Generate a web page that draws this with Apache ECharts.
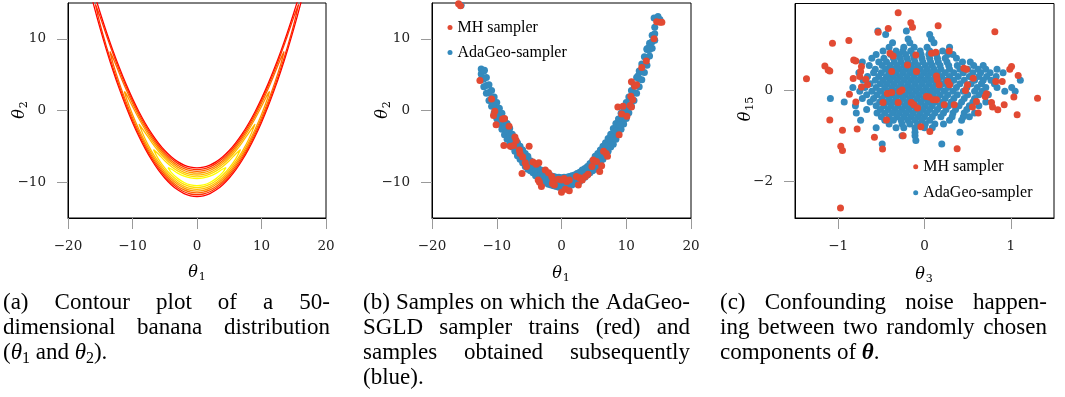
<!DOCTYPE html>
<html><head><meta charset="utf-8">
<script src="https://cdn.jsdelivr.net/npm/echarts@6/dist/echarts.min.js"></script>
<style>html,body{margin:0;padding:0;background:#fff}#c{width:1065px;height:397px}</style>
</head><body><div id="c"></div>
<script>
// ---------------- DATA ----------------
// (a) contour plot: ridge of the banana (theta2 at theta1 = 0,1,2,...) and contour half-widths
const ridgeY = [-10, -9.9, -9.6, -9.1, -8.4, -7.5, -6.4, -5.1, -3.6, -1.9, 0, 2.1, 4.4, 6.9, 9.6, 12.5, 15.6, 18.9];
const contourHW = [
  [2.00, 2.00, 1.99, 1.97, 1.95, 1.92, 1.89, 1.84, 1.79, 1.73, 1.66, 1.58, 1.49, 1.38, 1.26, 1.11, 0.92, 0.66],
  [1.75, 1.75, 1.74, 1.72, 1.69, 1.66, 1.62, 1.57, 1.51, 1.44, 1.35, 1.25, 1.13, 0.99, 0.80, 0.53],
  [1.50, 1.50, 1.48, 1.46, 1.43, 1.39, 1.34, 1.28, 1.21, 1.12, 1.01, 0.87, 0.69, 0.40],
  [1.25, 1.25, 1.23, 1.20, 1.17, 1.12, 1.06, 0.98, 0.88, 0.75, 0.57, 0.26],
  [1.00, 0.99, 0.98, 0.94, 0.90, 0.83, 0.75, 0.63, 0.46],
  [0.75, 0.74, 0.72, 0.67, 0.60, 0.50, 0.34],
  [0.50, 0.49, 0.45, 0.37, 0.23]
];
const contourEndX = [18, 15.75, 13.5, 11.25, 9, 6.75, 4.5];
const contourEndY = [22.4, 14.81, 8.23, 2.66, -1.9, -5.44, -7.98];
const contourColors = ['#ff0000', '#ff3300', '#ff6600', '#ff9900', '#ffbb00', '#ffdd00', '#ffff00'];

// (b) samples
const bBlueX =   [-12.4,-12.0,-11.6,-11.2,-10.8,-10.4,-10.0,-9.6,-9.2,-8.8,-8.4,-8.0,-7.6,-7.2,-6.8,-6.4,-6.0,-5.6,-5.2,-4.8,-4.4,-4.0,-3.6,-3.2,-2.8,-2.4,-2.0,-1.6,-1.2,-0.8,-0.4,0.0,0.4,0.8,1.2,1.6,2.0,2.4,2.8,3.2,3.6,4.0,4.4,4.8,5.2,5.6,6.0,6.4,6.8,7.2,7.6,8.0,8.4,8.8,9.2,9.6,10.0,10.4,10.8,11.2,11.6,12.0,12.4,12.8,13.2,13.6,14.0,14.4];
const bBlueUp =  [5.8,5.5,4.6,3.6,2.8,1.9,1.1,0.3,-0.4,-1.2,-1.8,-2.5,-3.3,-3.9,-4.5,-5.0,-5.5,-6.0,-6.4,-7.0,-7.4,-7.8,-8.1,-8.3,-8.6,-8.8,-9.0,-9.1,-9.2,-9.3,-9.3,-9.4,-9.3,-9.3,-9.2,-9.1,-9.0,-8.8,-8.6,-8.3,-8.1,-7.8,-7.4,-7.0,-6.4,-6.0,-5.5,-5.0,-4.5,-3.9,-3.3,-2.5,-1.8,-1.2,-0.4,0.3,1.1,1.9,2.8,3.6,4.6,5.5,6.5,7.5,8.5,9.4,10.5,11.6];
const bBlueMid = [5.1,4.4,3.5,2.5,1.7,0.8,0.0,-0.8,-1.5,-2.3,-2.9,-3.6,-4.2,-4.8,-5.4,-5.9,-6.4,-6.9,-7.3,-7.7,-8.1,-8.4,-8.7,-9.0,-9.2,-9.4,-9.6,-9.7,-9.9,-9.9,-10.0,-10.0,-10.0,-9.9,-9.9,-9.7,-9.6,-9.4,-9.2,-9.0,-8.7,-8.4,-8.1,-7.7,-7.3,-6.9,-6.4,-5.9,-5.4,-4.8,-4.2,-3.6,-2.9,-2.3,-1.5,-0.8,0.0,0.8,1.7,2.5,3.5,4.4,5.4,6.4,7.4,8.5,9.6,10.7];
const bBlueLow = [4.3,3.3,2.4,1.4,0.6,-0.3,-1.1,-1.9,-2.6,-3.4,-4.0,-4.7,-5.1,-5.7,-6.3,-6.8,-7.3,-7.8,-8.2,-8.4,-8.7,-9.1,-9.4,-9.6,-9.9,-10.1,-10.3,-10.4,-10.5,-10.6,-10.7,-10.7,-10.6,-10.6,-10.5,-10.4,-10.2,-10.1,-9.9,-9.6,-9.3,-9.0,-8.7,-8.4,-8.2,-7.8,-7.3,-6.8,-6.3,-5.7,-5.1,-4.7,-4.0,-3.4,-2.6,-1.9,-1.1,-0.3,0.6,1.4,2.4,3.3,4.3,5.3,6.3,7.6,8.7,9.8];
const bBlueExtra = [[-15.5,14.7],[14.3,12.9],[14.9,13.1],[15.2,12.7],[13.5,8.8],[13.2,8.6],[-11.9,5.6],[-9.8,-1.6],[-7.8,-4.6],[9.0,-2.0],[11.8,4.8]];
const bRed = [[-15.9,14.9],[-15.6,14.6],[-12.6,4.2],[-10.8,1.6],[-10.3,-0.1],[-10.5,-0.7],[-10.1,-2.0],[-9.1,-1.2],[-8.8,-1.1],[-8.1,-2.2],[-8.9,-4.9],[-7.9,-5.0],[-7.4,-4.9],[-7.2,-3.7],[-7.0,-4.2],[-6.5,-5.5],[-6.4,-6.0],[-6.0,-6.5],[-5.6,-7.3],[-5.4,-7.8],[-6.1,-8.8],[-5.0,-5.0],[-4.4,-7.2],[-3.9,-7.5],[-3.5,-7.3],[-3.6,-9.7],[-3.4,-10.0],[-3.1,-10.6],[-2.5,-8.3],[-2.0,-8.7],[-1.5,-9.2],[-1.3,-9.7],[-1.1,-10.4],[-1.4,-10.2],[-0.5,-9.6],[0.0,-9.7],[0.4,-9.5],[0.8,-9.9],[1.2,-9.7],[0.0,-11.4],[0.6,-11.0],[1.2,-11.2],[2.3,-9.2],[2.8,-9.4],[3.2,-9.7],[3.7,-9.2],[4.1,-8.9],[2.6,-10.4],[4.7,-7.8],[4.9,-6.9],[5.4,-7.1],[5.9,-8.5],[6.2,-7.7],[6.5,-5.7],[6.9,-6.0],[7.1,-6.4],[8.9,-3.4],[8.7,0.5],[9.5,0.6],[9.3,-0.5],[10.1,-0.8],[10.6,0.7],[10.8,0.5],[10.7,2.0],[11.0,1.5],[10.8,4.0],[11.3,3.4],[11.6,3.6],[12.4,6.0],[13.1,6.9],[14.3,10.0],[14.7,12.4],[15.2,12.3],[15.5,12.3]];

// (c) samples: blue cloud by rows (theta15 value -> theta3 values)
const cBlueY = [1.30,1.22,1.12,1.04,0.94,0.86,0.78,0.70,0.62,0.54,0.46,0.38,0.30,0.22,0.14,0.06,-0.02,-0.10,-0.18,-0.26,-0.34,-0.42,-0.50,-0.58,-0.66,-0.74,-0.82,-0.92,-1.00,-1.10,-1.18];
const cBlueX = [
  [-0.54,-0.21],
  [-0.45,0.06],
  [-0.19,0.08],
  [-0.37,-0.17,0.11],
  [-0.41,-0.24,-0.12,0.03,0.29],
  [-0.48,-0.33,-0.25,-0.16,-0.05,0.06,0.21],
  [-0.56,-0.39,-0.30,-0.22,-0.13,-0.04,0.05,0.14,0.27,0.33],
  [-0.61,-0.47,-0.36,-0.28,-0.20,-0.12,-0.03,0.06,0.15,0.24,0.37],
  [-0.72,-0.53,-0.44,-0.35,-0.27,-0.19,-0.11,-0.02,0.07,0.16,0.26,0.44,0.53],
  [-0.64,-0.49,-0.40,-0.32,-0.24,-0.16,-0.08,0.01,0.09,0.18,0.28,0.38,0.57,0.68],
  [-0.57,-0.45,-0.37,-0.29,-0.21,-0.13,-0.05,0.03,0.11,0.19,0.29,0.41,0.50,0.62,0.71,0.84],
  [-0.76,-0.59,-0.50,-0.41,-0.33,-0.25,-0.17,-0.09,-0.01,0.07,0.15,0.24,0.34,0.45,0.56,0.65,0.76,0.91],
  [-0.66,-0.53,-0.44,-0.36,-0.28,-0.20,-0.12,-0.04,0.04,0.12,0.20,0.29,0.39,0.52,0.63,0.72,0.83],
  [-0.71,-0.57,-0.48,-0.40,-0.32,-0.24,-0.16,-0.08,0.00,0.08,0.16,0.25,0.34,0.46,0.58,0.68,0.77,1.11],
  [-0.63,-0.51,-0.43,-0.35,-0.27,-0.19,-0.11,-0.03,0.05,0.13,0.21,0.30,0.41,0.54,0.66,0.81],
  [-0.83,-0.69,-0.56,-0.46,-0.38,-0.30,-0.22,-0.14,-0.06,0.02,0.10,0.18,0.27,0.37,0.49,0.61,0.71,0.84,1.01],
  [-0.75,-0.61,-0.51,-0.42,-0.34,-0.26,-0.18,-0.10,-0.02,0.06,0.14,0.23,0.33,0.45,0.58,0.67,0.93,1.05],
  [-0.67,-0.55,-0.46,-0.38,-0.30,-0.22,-0.14,-0.06,0.02,0.10,0.18,0.27,0.38,0.50,0.63,0.74],
  [-1.09,-0.72,-0.59,-0.49,-0.41,-0.33,-0.25,-0.17,-0.09,-0.01,0.07,0.15,0.24,0.34,0.46,0.58],
  [-0.93,-0.63,-0.52,-0.44,-0.36,-0.28,-0.20,-0.12,-0.04,0.04,0.12,0.21,0.31,0.43,0.56,0.71],
  [-0.80,-0.56,-0.47,-0.39,-0.31,-0.23,-0.15,-0.07,0.01,0.09,0.18,0.28,0.40,0.52,0.63],
  [-0.67,-0.51,-0.42,-0.34,-0.26,-0.18,-0.10,-0.02,0.06,0.15,0.25,0.36,0.49],
  [-0.79,-0.55,-0.46,-0.37,-0.29,-0.21,-0.13,-0.05,0.03,0.12,0.22,0.33,0.46,0.58],
  [-0.50,-0.41,-0.32,-0.24,-0.16,-0.08,0.00,0.09,0.19,0.32,0.45,0.52],
  [-0.74,-0.46,-0.36,-0.27,-0.19,-0.11,-0.03,0.06,0.29,0.43],
  [-0.41,-0.26,-0.17,-0.08,0.01,0.12,0.22],
  [-0.56,-0.33,-0.24,-0.11,0.00,0.09],
  [-0.11,0.41],
  [-0.26,-0.11],
  [-0.10],
  [-0.49,0.20]
];
const cRed = [[-1.367,0.25],[-1.154,0.53],[-1.116,0.445],[-1.097,0.42],[-1.066,1.03],[-0.876,1.09],[-1.097,-0.65],[-0.95,-0.88],[-0.97,-1.23],[-0.95,-1.32],[-0.973,-2.58],[-0.82,0.66],[-0.795,0.64],[-0.73,0.52],[-0.74,0.41],[-0.75,0.30],[-0.826,0.255],[-0.68,0.24],[-0.66,0.12],[-0.87,-0.09],[-0.795,-0.26],[-0.78,-0.85],[-0.73,0.07],[-0.58,-1.03],[-0.486,-1.29],[-0.537,1.27],[-0.42,1.35],[-0.305,1.70],[-0.40,0.81],[-0.363,0.75],[-0.38,0.41],[-0.44,-0.65],[-0.48,-0.27],[-0.43,-0.07],[-0.38,-0.05],[-0.286,-0.03],[-0.26,0.007],[-0.305,-0.27],[-0.247,-1.0],[-0.197,0.55],[-0.158,1.48],[-0.139,1.38],[-0.154,-0.27],[-0.124,-0.32],[-0.081,-0.39],[-0.093,0.41],[-0.100,0.77],[-0.042,-0.80],[0.023,-0.14],[0.054,-0.15],[0.10,-0.21],[0.062,-0.905],[0.081,0.81],[0.131,0.83],[0.158,1.41],[0.139,0.31],[0.147,0.23],[0.17,0.12],[0.139,-0.21],[0.228,-0.32],[0.286,0.86],[0.27,0.19],[0.29,0.12],[0.344,-0.32],[0.378,-1.28],[0.456,0.48],[0.486,0.46],[0.475,-0.007],[0.498,0.117],[0.564,0.26],[0.556,-0.37],[0.602,-0.25],[0.622,-0.50],[0.718,-0.08],[0.703,-0.14],[0.815,1.28],[0.826,0.19],[0.776,-0.27],[0.788,-0.37],[0.849,-0.43],[0.90,0.19],[0.923,-0.32],[0.988,0.46],[1.008,0.52],[1.035,-0.15],[1.085,0.32],[1.073,-0.54],[1.309,-0.175]];

// tick labels
const abXTicks = [-20, -10, 0, 10, 20];
const abYTicks = [-10, 0, 10];
const cXTicks = [-1, 0, 1];
const cYTicks = [-2, 0];
const seriesNames = ['MH sampler', 'AdaGeo-sampler'];

// captions ([i:..] italic, [s:..] subscript, [b:..] bold italic)
const captionA = ['(a) Contour plot of a 50-', 'dimensional banana distribution', '([i:θ][s:1] and [i:θ][s:2]).'];
const captionB = ['(b) Samples on which the AdaGeo-', 'SGLD sampler trains (red) and', 'samples obtained subsequently', '(blue).'];
const captionC = ['(c) Confounding noise happen-', 'ing between two randomly chosen', 'components of [b:θ].'];

// ---------------- BUILD ----------------
const RED = '#e24a33', BLUE = '#348abd';
const mctx = document.createElement('canvas').getContext('2d');
function fontStr(f) { return f.style + ' ' + f.weight + ' ' + f.size + 'px ' + f.family; }
function measure(t, f) { mctx.font = fontStr(f); return mctx.measureText(t).width; }
function textStyle(t, f) {
  return { text: t, fontSize: f.size, fontFamily: f.family, fontStyle: f.style, fontWeight: f.weight,
    fill: '#000', textAlign: 'left', textVerticalAlign: 'middle' };
}

function contourLoop(k) {
  const hw = contourHW[k], n = hw.length, e = contourEndX[k], ye = contourEndY[k];
  const pts = [[-e, ye]];
  for (let i = n - 1; i >= 1; i--) pts.push([-i, ridgeY[i] + hw[i]]);
  for (let i = 0; i < n; i++) pts.push([i, ridgeY[i] + hw[i]]);
  pts.push([e, ye]);
  for (let i = n - 1; i >= 0; i--) pts.push([i, ridgeY[i] - hw[i]]);
  for (let i = 1; i < n; i++) pts.push([-i, ridgeY[i] - hw[i]]);
  pts.push([-e, ye]);
  return pts;
}

const bBlue = [];
bBlueX.forEach((x, i) => { bBlue.push([x, bBlueUp[i]], [x, bBlueMid[i]], [x, bBlueLow[i]]); });
bBlueExtra.forEach(p => bBlue.push(p));
const cBlue = [];
cBlueY.forEach((y, i) => cBlueX[i].forEach(x => cBlue.push([x, y])));

const fmt = v => String(v).replace('-', '\u2212');
function xAx(gi, min, max, ticks) {
  return {
    gridIndex: gi, type: 'value', min: min, max: max,
    axisLine: { show: true, onZero: false, lineStyle: { color: '#000', width: 1 } },
    splitLine: { show: false },
    axisTick: { show: true, customValues: ticks, length: 11, inside: false, lineStyle: { color: '#9a9a9a', width: 1 } },
    axisLabel: { customValues: ticks, margin: 21, fontFamily: 'DejaVu Serif', fontSize: 13.5, color: '#222', formatter: fmt }
  };
}
function yAx(gi, min, max, ticks) {
  const a = xAx(gi, min, max, ticks);
  a.axisLabel.margin = 22;
  return a;
}

const grids = [
  { left: 68, top: 3, width: 258, height: 215 },
  { left: 432, top: 3, width: 259, height: 215 },
  { left: 795, top: 3.5, width: 259, height: 214.5 }
].map(g => Object.assign(g, { show: true, borderColor: '#000', borderWidth: 1, backgroundColor: 'transparent', containLabel: false }));

const series = [];
for (let k = 0; k < contourHW.length; k++) {
  series.push({ type: 'line', xAxisIndex: 0, yAxisIndex: 0, data: contourLoop(k), smooth: 0.4, showSymbol: false,
    symbol: 'none', clip: true, lineStyle: { color: contourColors[k], width: 1.3 }, silent: true, z: 2 });
}
const sc = (name, xi, data, color) => ({ name: name, type: 'scatter', xAxisIndex: xi, yAxisIndex: xi, data: data,
  symbol: 'circle', symbolSize: 7, itemStyle: { color: color, opacity: 1 }, clip: true, silent: true });
series.push(sc(seriesNames[1], 1, bBlue, BLUE));
series.push(sc(seriesNames[0], 1, bRed, RED));
series.push(sc(seriesNames[1], 2, cBlue, BLUE));
series.push(sc(seriesNames[0], 2, cRed, RED));

const legendCommon = { data: seriesNames, orient: 'vertical', icon: 'circle', itemWidth: 5, itemHeight: 5, padding: 0,
  selectedMode: false, textStyle: { fontFamily: 'Liberation Serif', fontSize: 16, color: '#000', lineHeight: 16 } };

// ---- graphic texts: axis names and captions ----
const graphics = [];
const AX_I = { style: 'italic', weight: 'normal', size: 16, family: 'DejaVu Serif' };
const AX_S = { style: 'normal', weight: 'normal', size: 11, family: 'DejaVu Serif' };
function axisName(cx, cy, sub, rot) {
  const w1 = measure('θ', AX_I), w2 = measure(sub, AX_S);
  const x0 = -(w1 + 1 + w2) / 2;
  return { type: 'group', x: cx, y: cy, rotation: rot || 0, silent: true, children: [
    { type: 'text', x: x0, y: 0, style: textStyle('θ', AX_I) },
    { type: 'text', x: x0 + w1 + 1, y: 4, style: textStyle(sub, AX_S) }
  ] };
}
graphics.push(axisName(197, 273, '1'));
graphics.push(axisName(20, 110, '2', Math.PI / 2));
graphics.push(axisName(561, 274, '1'));
graphics.push(axisName(383, 110, '2', Math.PI / 2));
graphics.push(axisName(924, 275, '3'));
graphics.push(axisName(746, 109, '15', Math.PI / 2));

const CF = {
  n: { style: 'normal', weight: 'normal', size: 23, family: 'Liberation Serif' },
  i: { style: 'italic', weight: 'normal', size: 23, family: 'Liberation Serif' },
  s: { style: 'normal', weight: 'normal', size: 16, family: 'Liberation Serif' },
  b: { style: 'italic', weight: 'bold', size: 23, family: 'Liberation Serif' }
};
function parseWord(w) {
  const segs = []; const re = /\[(\w+):([^\]]*)\]|([^\[]+)/g; let m;
  while ((m = re.exec(w))) { if (m[3] !== undefined) segs.push({ t: m[3], k: 'n' }); else segs.push({ t: m[2], k: m[1] }); }
  return segs;
}
function caption(lines, x0, width, base0, lh) {
  const spaceW = measure(' ', CF.n);
  lines.forEach((ln, li) => {
    const words = ln.split(' ').map(parseWord);
    const widths = words.map(ws => ws.reduce((s, g) => s + measure(g.t, CF[g.k]), 0));
    const total = widths.reduce((a, b) => a + b, 0);
    const justify = li < lines.length - 1 && words.length > 1;
    const gap = justify ? (width - total) / (words.length - 1) : spaceW;
    const base = base0 + li * lh;
    let x = x0;
    words.forEach((ws) => {
      ws.forEach(g => {
        const isSub = g.k === 's';
        graphics.push({ type: 'text', x: x, y: isSub ? base + 4 - 5.4 : base - 7.8, silent: true, style: textStyle(g.t, CF[g.k]) });
        x += measure(g.t, CF[g.k]);
      });
      x += gap;
    });
  });
}
caption(captionA, 3, 327, 311, 24.8);
caption(captionB, 363, 327, 311, 24.8);
caption(captionC, 720, 327, 311, 24.8);

const chart = echarts.init(document.getElementById('c'), null, { renderer: 'canvas' });
chart.setOption({
  animation: false,
  backgroundColor: '#fff',
  grid: grids,
  xAxis: [xAx(0, -20, 20, abXTicks), xAx(1, -20, 20, abXTicks), xAx(2, -1.5, 1.5, cXTicks)],
  yAxis: [yAx(0, -15, 15, abYTicks), yAx(1, -15, 15, abYTicks), yAx(2, -2.8, 1.9, cYTicks)],
  legend: [
    Object.assign({}, legendCommon, { left: 447.5, top: 19.5, itemGap: 9 }),
    Object.assign({}, legendCommon, { left: 913.2, top: 158.7, itemGap: 10 })
  ],
  series: series,
  graphic: graphics
});
</script></body></html>
